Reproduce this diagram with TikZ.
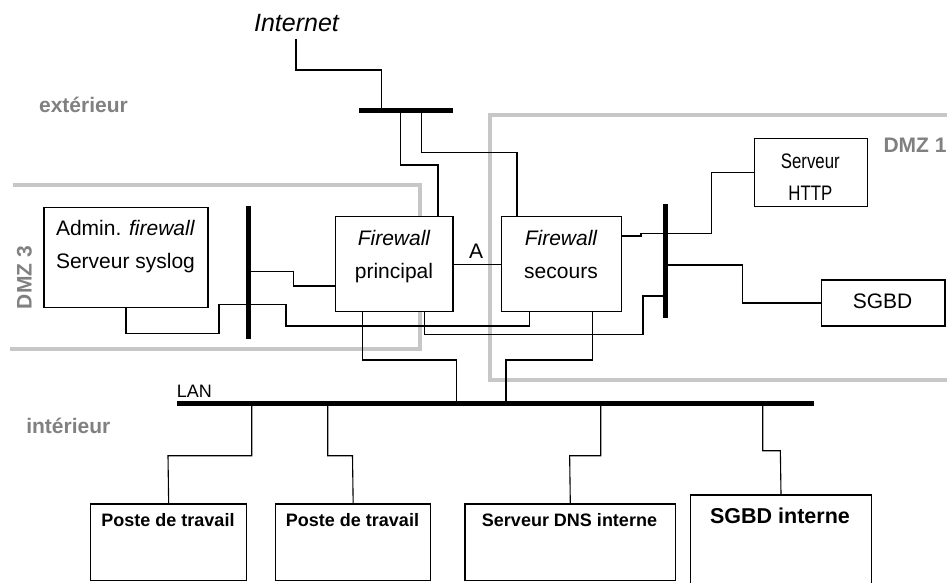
\documentclass[tikz,border=0pt]{standalone}
\usepackage{fontspec}
\setmainfont{Liberation Sans}
\begin{document}
\begin{tikzpicture}[x=1pt,y=-1pt,
  box/.style={draw=black, line width=1.3pt, fill=white, inner sep=0pt, anchor=north west},
  wire/.style={draw=black, line width=1.1pt},
  busline/.style={draw=black, line width=5pt},
  zone/.style={draw=black!22, line width=4pt},
  zlabel/.style={text=black!50, inner sep=0pt, anchor=base, font=\fontsize{21}{24}\selectfont\bfseries},
  txt/.style={inner sep=0pt, anchor=base, font=\fontsize{21}{24}\selectfont},
  itxt/.style={inner sep=0pt, anchor=base, font=\fontsize{21}{24}\selectfont\itshape},
  btxt/.style={inner sep=0pt, anchor=base, font=\fontsize{18}{21}\selectfont\bfseries},
]
\useasboundingbox[fill=white] (0,0) rectangle (947,583);

% zones
\draw[zone] (13,185) -- (420,185) -- (420,349) -- (10,349);
\draw[zone] (955,115) -- (490,115) -- (490,379.5) -- (955,379.5);

% zone labels
\node[zlabel] (ext) at (83.5,112.3) {extérieur};
\node[zlabel] (int) at (68.3,433.3) {intérieur};
\node[zlabel, rotate=90] (dmz3) at (31.7,277.5) {DMZ 3};
\node[zlabel] (dmz1) at (915,153) {DMZ 1};

% boxes
\node[box, minimum width=117.3pt, minimum height=95pt] (fwp) at (335,216) {};
\node[box, minimum width=120pt, minimum height=95pt] (fws) at (501,216) {};
\node[box, minimum width=164pt, minimum height=100pt] (adm) at (43.3,206.7) {};
\node[box, minimum width=112.7pt, minimum height=68pt] (http) at (754,138) {};
\node[box, minimum width=123.6pt, minimum height=46pt] (sgbd) at (820.7,279.3) {};
\node[box, minimum width=156pt, minimum height=76.7pt] (p1) at (90,503.3) {};
\node[box, minimum width=155pt, minimum height=76.7pt] (p2) at (275,503.3) {};
\node[box, minimum width=210.7pt, minimum height=76.7pt] (dns) at (464.3,503.3) {};
\node[box, minimum width=180.7pt, minimum height=95pt] (sgbdi) at (690,494.3) {};

% box texts
\node[itxt] (fwpa) at (394,245) {Firewall};
\node[txt] (fwpb) at (394,278.3) {principal};
\node[itxt] (fwsa) at (561,245) {Firewall};
\node[txt] (fwsb) at (561,278.3) {secours};
\node[txt] (adma) at (125.5,235) {Admin. \textit{firewall}};
\node[txt] (admb) at (125.5,268.3) {Serveur syslog};
\node[txt] (httpa) at (810.3,168.3) {\scalebox{0.8}[1]{Serveur}};
\node[txt] (httpb) at (810.3,200.7) {\scalebox{0.8}[1]{HTTP}};
\node[txt] (sgbdt) at (882.5,308.3) {SGBD};
\node[btxt] (p1t) at (168,526.7) {Poste de travail};
\node[btxt] (p2t) at (352.5,526.7) {Poste de travail};
\node[btxt] (dnst) at (569.5,526.7) {Serveur DNS interne};
\node[inner sep=0pt, anchor=base, font=\fontsize{21.5}{24}\selectfont\bfseries] (sgbdit) at (780,523.3) {SGBD interne};

% Internet
\node[inner sep=0pt, anchor=base, font=\fontsize{25}{28}\selectfont\itshape] (inet) at (296.5,32) {Internet};
\coordinate (inetend) at (296,39);

% buses
\coordinate (tb1) at (359,110.5); \coordinate (tb2) at (453,110.5);
\coordinate (d3a) at (248.3,206); \coordinate (d3b) at (248.3,339.3);
\coordinate (d1a) at (665,204); \coordinate (d1b) at (665,318.3);
\coordinate (lana) at (176.7,403.3); \coordinate (lanb) at (814,403.3);
\draw[busline] (tb1) -- (tb2);
\draw[busline] (d3a) -- (d3b);
\draw[busline] (d1a) -- (d1b);
\draw[busline] (lana) -- (lanb);
\node[inner sep=0pt, anchor=base west, font=\fontsize{18}{21}\selectfont] (lan) at (176.7,397.7) {LAN};

% wires
\draw[wire] (inetend) |- (381.7,70) -- (381.7,110.5);
\draw[wire] (400.7,110.5) |- (438,165) -- (438,0 |- fwp.north);
\draw[wire] (421.7,110.5) |- (517,152.3) -- (517,0 |- fws.north);
\draw[wire] (fwp.east) -- (fws.west);
\node[txt] (alabel) at (476,258) {A};
\draw[wire] (fws.east |- 0,236) -- (641,236) -- (641,233.5) -- (665,233.5);
\draw[wire] (665,233.3) -- (711.7,233.3) |- (http.west);
\draw[wire] (665,265) -- (742.7,265) |- (sgbd.west);
\draw[wire] (424.3,0 |- fwp.south) |- (643,334.3) |- (665,296);
\draw[wire] (529.3,0 |- fws.south) |- (286,326) |- (248.3,304.3);
\draw[wire] (248.3,271.7) -- (293.3,271.7) |- (fwp.west |- 0,286);
\draw[wire] (adm.south) |- (219,333.3) |- (248.3,304.3);
\draw[wire] (362.7,0 |- fwp.south) |- (456.7,360) -- (456.7,403.3);
\draw[wire] (592.7,0 |- fws.south) |- (506,360) -- (506,403.3);
\draw[wire] (251.7,403.3) |- (168,455.7) -- (p1.north);
\draw[wire] (327.7,403.3) |- (352.5,455.7) -- (p2.north);
\draw[wire] (600.7,403.3) |- (569.65,455.7) -- (dns.north);
\draw[wire] (762.7,403.3) |- (780.35,450.7) -- (sgbdi.north);
\end{tikzpicture}
\end{document}
